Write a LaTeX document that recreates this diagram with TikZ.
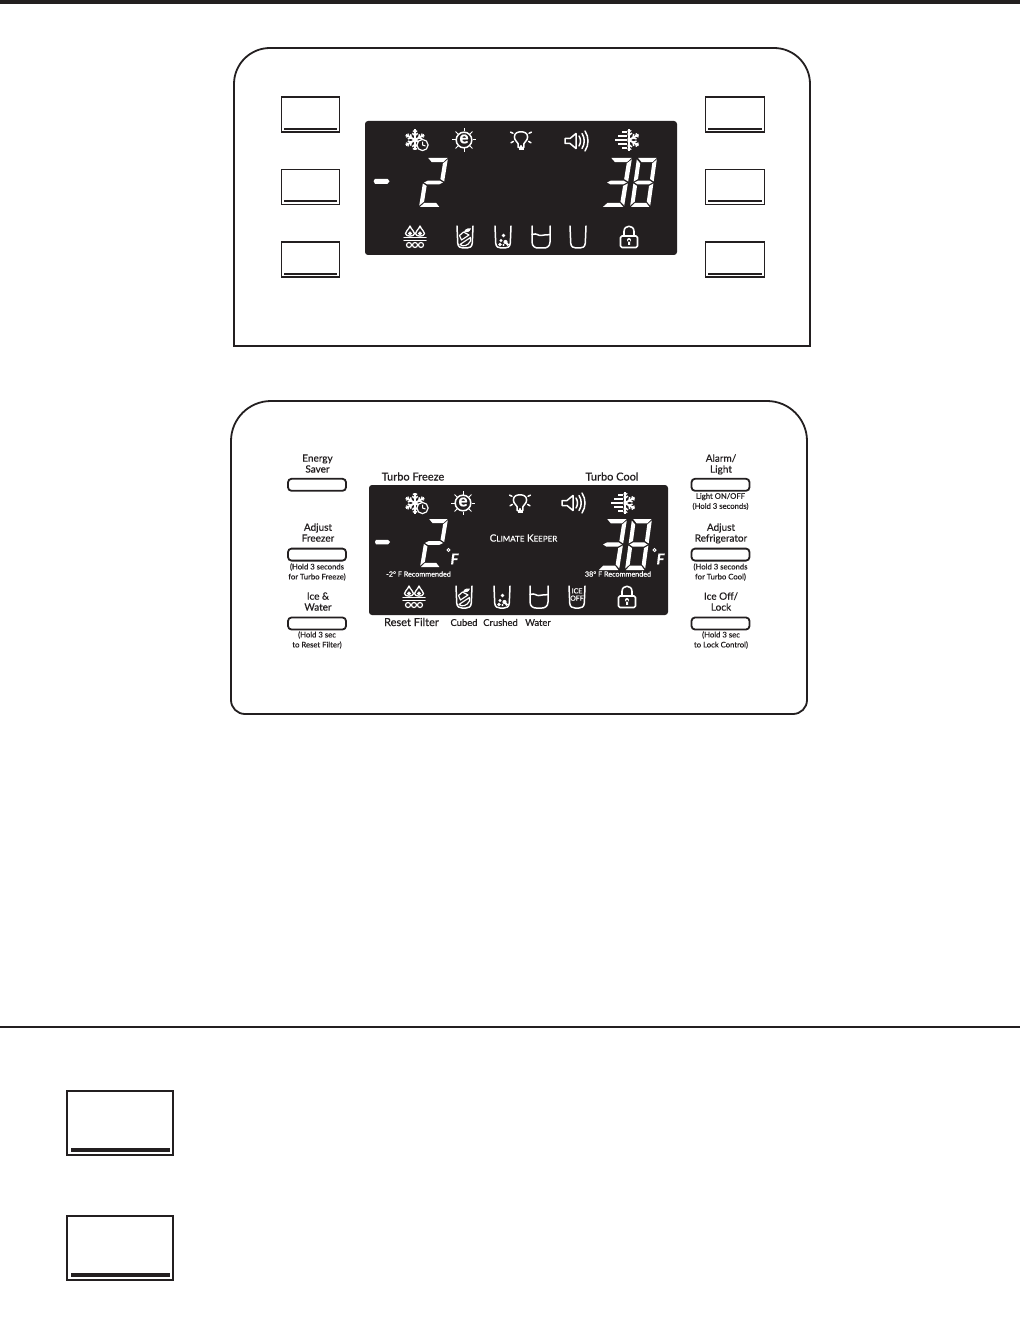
\documentclass[tikz,border=0pt]{standalone}
\usepackage{fontspec}
\setmainfont[FakeBold=0.5]{Lato}
\usetikzlibrary{calc}
\definecolor{ink}{HTML}{231F20}
\newcommand{\fsz}[1]{\fontsize{#1}{#1}\selectfont}
\newcommand{\segA}{\fill[white] (0.06,0)--(0.98,0)--(0.80,0.085)--(0.26,0.085)--cycle;}
\newcommand{\segB}{\fill[white] (1,0.03)--(1,0.48)--(0.80,0.43)--(0.80,0.11)--cycle;}
\newcommand{\segC}{\fill[white] (1,0.52)--(1,0.97)--(0.80,0.89)--(0.80,0.57)--cycle;}
\newcommand{\segD}{\fill[white] (0.04,1)--(0.22,0.915)--(0.78,0.915)--(0.97,1)--cycle;}
\newcommand{\segE}{\fill[white] (0,0.52)--(0.2,0.57)--(0.2,0.89)--(0,0.97)--cycle;}
\newcommand{\segF}{\fill[white] (0,0.03)--(0.2,0.11)--(0.2,0.43)--(0,0.48)--cycle;}
\newcommand{\segG}{\fill[white] (0.05,0.5)--(0.22,0.46)--(0.78,0.46)--(0.95,0.5)--(0.78,0.54)--(0.22,0.54)--cycle;}
% x0,y0,w,slant,h,segments
\newcommand{\sevenseg}[6]{\begin{scope}[shift={(#1+#4,#2)},x={(#3pt,0pt)},y={(-#4pt,-#5pt)}]#6\end{scope}}
\newcommand{\flakeshape}[1]{%
  \foreach \a in {30,90,...,330}{
    \draw[white,line width=2] (0,0)--(\a:#1);
    \draw[white,line width=1.5] (\a:0.42*#1)--++(\a+50:0.34*#1);
    \draw[white,line width=1.5] (\a:0.42*#1)--++(\a-50:0.34*#1);
    \draw[white,line width=1.2] (\a:0.72*#1)--++(\a+50:0.26*#1);
    \draw[white,line width=1.2] (\a:0.72*#1)--++(\a-50:0.26*#1);
  }}
\tikzset{
  x=1pt,y=-1pt,
  icon/.style={white,line width=1.5,line cap=round,line join=round},
  btnsq/.style={draw=ink,line width=1.3,fill=white,inner sep=0,outer sep=0,minimum width=58.5,minimum height=35,
    path picture={\fill[ink] ([xshift=2.5pt,yshift=2pt]path picture bounding box.south west) rectangle ([xshift=-2.5pt,yshift=4.2pt]path picture bounding box.south east);}},
  btnbig/.style={draw=ink,line width=1.8,fill=white,inner sep=0,outer sep=0,minimum width=106,minimum height=64,
    path picture={\fill[ink] ([xshift=3.5pt,yshift=3pt]path picture bounding box.south west) rectangle ([xshift=-3.5pt,yshift=7pt]path picture bounding box.south east);}},
  btnrnd/.style={draw=ink,line width=1.8,fill=white,rounded corners=3.5,inner sep=0,outer sep=0,minimum width=58,minimum height=12},
  panel/.style={draw=ink,line width=1.8},
  lbl/.style={text=ink,font=\fsz{10},align=center,inner sep=0,text depth=0pt},
  tiny/.style={text=ink,font=\fsz{7.7},align=center,inner sep=0},
  wtiny/.style={text=white,font=\fsz{7.2},inner sep=0},
  capbig/.style={text=ink,font=\fsz{11},inner sep=0},
  capsm/.style={text=ink,font=\fsz{9.4},inner sep=0},
  icsnowclock/.pic={
    \begin{scope}[shift={(-1,0)}]\flakeshape{10.5}\end{scope}
    \draw[white,fill=ink,line width=1.2] (6.5,5) circle (5.6);
    \draw[white,line width=1] (6.5,1.6)--(6.5,5)--(9.5,6);
  },
  icesun/.pic={
    \draw[white,line width=1.5] (0,0) circle (7.8);
    \foreach \a in {0,45,...,315}{\draw[white,line width=1] (\a:8.5)--(\a:12);}
    \node[white,inner sep=0,font=\fsz{17}\bfseries] (esym) at (0,-1) {e};
  },
  icbulb/.pic={
    \draw[icon] (-2.8,7.5)--(-2.8,3.8) .. controls (-3.2,1.8) and (-6.6,0.8) .. (-6.6,-3) .. controls (-6.6,-7) and (-3.4,-8.2) .. (0,-8.2) .. controls (3.4,-8.2) and (6.6,-7) .. (6.6,-3) .. controls (6.6,0.8) and (3.2,1.8) .. (2.8,3.8)--(2.8,7.5)--cycle;
    \draw[icon,line width=2.6,line cap=butt] (-2.5,8.8)--(2.5,8.8);
    \foreach \a in {-25,30,90,150,205}{\draw[icon] ($(0,-3)+(\a:8.8)$)--($(0,-3)+(\a:11.5)$);}
  },
  icspeaker/.pic={
    \draw[icon] (-12,-2.5)--(-7,-2.5)--(-1,-7.5)--(-1,7.5)--(-7,2.5)--(-12,2.5)--cycle;
    \draw[icon] (2,-5) .. controls (4,-2) and (4,2) .. (2,5);
    \draw[icon] (5,-7.5) .. controls (8,-3) and (8,3) .. (5,7.5);
    \draw[icon] (8,-10) .. controls (12,-4) and (12,4) .. (8,10);
  },
  iclinesnow/.pic={
    \begin{scope}[shift={(1,0)}]
      \clip (-1.5,-14) rectangle (14,14);
      \flakeshape{11}
    \end{scope}
    \foreach \y/\x in {-8/-6,-4/-10,0/-13,4/-10,8/-6}{\draw[white,line width=1.2] (\x,\y)--(-1.5,\y);}
  },
  icfilter/.pic={
    \foreach \x in {-5,5}{\draw[icon,line width=1.3] (\x,-11) .. controls (\x-1.5,-7) and (\x-4.5,-6) .. (\x-4.5,-3.5) .. controls (\x-4.5,0) and (\x+4.5,0) .. (\x+4.5,-3.5) .. controls (\x+4.5,-6) and (\x+1.5,-7) .. (\x,-11);}
    \draw[white,fill=white] (-5,-3.5) circle (1.8) (5,-3.5) circle (1.8);
    \draw[icon] (-11,0.5)--(11,0.5) (-11,3.4)--(11,3.4);
    \foreach \x in {-6,0,6}{\draw[icon,fill=ink,line width=1.2] (\x,8) circle (2.5);}
  },
  iccup/.pic={
    \draw[icon] (-8,-11)--(-7.3,6) .. controls (-7,10) and (-4.5,11) .. (-2,11)--(2,11) .. controls (4.5,11) and (7,10) .. (7.3,6)--(8,-11);
  },
  iccubed/.pic={
    \pic {iccup};
    \fill[white] (-1,-5.5) .. controls (1,-9) and (4,-9) .. (6,-8.5) .. controls (5,-5) and (2,-4) .. (-1,-5.5)--cycle;
    \draw[icon,line width=1.2] (-5.5,-1.5)--(-1.5,-5)--(4,-2)--(-3.5,3)--cycle;
    \draw[icon,line width=1.2] (-5,7.5)--(5.5,0.5)--(5.5,4) .. controls (3,9) and (-2,10) .. (-5,7.5);
  },
  iccrushed/.pic={
    \pic {iccup};
    \fill[white] (0.5,-1.5) circle (1.9) (-2,3.5) circle (1.7) (2.5,5) circle (2.1) (-3,7.5) circle (1.9) (0.5,8) circle (1.2) (4.5,7.5) circle (1.5);
  },
  icwater/.pic={
    \draw[icon] (-9,-11)--(-9,5) .. controls (-9,10) and (-5,11) .. (-3,11)--(3,11) .. controls (5,11) and (9,10) .. (9,5)--(9,-11);
    \draw[icon] (-9,-2.5) .. controls (-4,-4.5) and (-2,-0.5) .. (0,-1.5) .. controls (2,-2.5) and (4,-1.5) .. (9,-2.5);
  },
  icice/.pic={
    \pic {iccup};
    \node[white,inner sep=0,font=\fsz{7},align=center] (icetxt) at (0,-2.5) {ICE\\[0.3pt]OFF};
  },
  iclock/.pic={
    \draw[icon,line width=1.6] (-5,-1)--(-5,-5.5) .. controls (-5,-12.5) and (5,-12.5) .. (5,-5.5)--(5,-1);
    \draw[icon,line width=1.6,rounded corners=1.5] (-8.5,-1) rectangle (8.5,10.5);
    \fill[white] (0,3) circle (2) (-1,3) rectangle (1,7.8);
  },
}
\begin{document}
\begin{tikzpicture}
\useasboundingbox (0,0) rectangle (1020,1332);
\fill[white] (0,0) rectangle (1020,1332);
% page rules
\fill[ink] (0,0) rectangle (1020,4);
\fill[ink] (0,1026.2) rectangle (1020,1028);
% --- Panel 1
\draw[panel,rounded corners=36] (234,346)--(234,48)--(810,48)[sharp corners]--(810,346)--cycle;
\node[btnsq] (a1) at (310.5,114.5) {};
\node[btnsq] (a2) at (310.5,187) {};
\node[btnsq] (a3) at (310.5,259.5) {};
\node[btnsq] (a4) at (735,114.5) {};
\node[btnsq] (a5) at (735,187) {};
\node[btnsq] (a6) at (735,259.5) {};
\fill[ink,rounded corners=3] (365,121) rectangle (677,255);
\pic at (416,140) {icsnowclock};
\pic at (464,140) {icesun};
\pic at (521,140) {icbulb};
\pic at (577,141) {icspeaker};
\pic at (628,140) {iclinesnow};
\pic at (415,237) {icfilter};
\pic at (465,237) {iccubed};
\pic at (503,237) {iccrushed};
\pic at (541,237) {icwater};
\pic at (578,237) {iccup};
\pic at (629,237) {iclock};
\fill[white] (375,178.8) -- (387.5,178.8) -- (389.5,181.2) -- (387.5,183.8) -- (375,183.8) -- (373.6,181.2) -- cycle;
\sevenseg{419}{158}{21}{8}{49}{\segA\segB\segG\segE\segD}
\sevenseg{602}{158}{22}{8}{49}{\segA\segB\segG\segC\segD}
\sevenseg{630}{158}{20}{7}{49}{\segA\segB\segC\segD\segE\segF\segG}
% --- Panel 2
\draw[panel,rounded corners=40] (231,600)--(231,401)--(807,401)[rounded corners=14]--(807,714)--(231,714)--(231,600);
\node[btnrnd] (b1) at (317,484.8) {};
\node[btnrnd] (b2) at (317,554.6) {};
\node[btnrnd] (b3) at (317,623.5) {};
\node[btnrnd] (b4) at (720.5,484.8) {};
\node[btnrnd] (b5) at (720.5,554.6) {};
\node[btnrnd] (b6) at (720.5,623.5) {};
\fill[ink,rounded corners=3] (369,485) rectangle (668,615);
\pic at (416,503) {icsnowclock};
\pic at (463,503) {icesun};
\pic at (520,503) {icbulb};
\pic at (574,503) {icspeaker};
\pic at (624,503) {iclinesnow};
\pic at (414,597) {icfilter};
\pic at (464,597) {iccubed};
\pic at (502,597) {iccrushed};
\pic at (539,597) {icwater};
\pic at (577,597) {icice};
\pic at (627,597) {iclock};
\fill[white] (376,539.8) -- (388,539.8) -- (390,542) -- (388,544.4) -- (376,544.4) -- (375,542) -- cycle;
\sevenseg{420}{519}{20}{8}{48}{\segA\segB\segG\segE\segD}
\sevenseg{598}{519}{21}{8}{51}{\segA\segB\segG\segC\segD}
\sevenseg{625}{519}{20}{7}{51}{\segA\segB\segC\segD\segE\segF\segG}
\node[draw=white,line width=.9,circle,inner sep=0,minimum size=3.2] (d1) at (448.5,550) {};
\node[text=white,inner sep=0,font=\fsz{15}\bfseries\itshape] (f1) at (454.5,559) {F};
\node[draw=white,line width=.9,circle,inner sep=0,minimum size=3.2] (d2) at (654.5,550) {};
\node[text=white,inner sep=0,font=\fsz{15}\bfseries\itshape] (f2) at (660.5,559) {F};
\node[text=white,inner sep=0] (ck) at (523.5,538) {{\fsz{10}C}{\fsz{8}LIMATE} {\fsz{10}K}{\fsz{8}EEPER}};
\node[wtiny] (r1) at (418.5,574) {-2° F Recommended};
\node[wtiny] (r2) at (618,574) {38° F Recommended};
\node[capbig] (tf) at (413,476.5) {Turbo Freeze};
\node[capbig] (tc) at (612,476.5) {Turbo Cool};
\node[capbig] (rf) at (411.5,622) {Reset Filter};
\node[capsm] (c1) at (464,622.5) {Cubed};
\node[capsm] (c2) at (500.5,622.5) {Crushed};
\node[capsm] (c3) at (538,622.5) {Water};
\node[lbl] (l1) at (317.5,463.5) {Energy\\[0.9pt]Saver};
\node[lbl] (l2) at (318,532.5) {Adjust\\[0.9pt]Freezer};
\node[tiny] (l2s) at (317,572) {(Hold 3 seconds\\[2.3pt]for Turbo Freeze)};
\node[lbl] (l3) at (318,601.5) {Ice \&\\[0.9pt]Water};
\node[tiny] (l3s) at (317,640) {(Hold 3 sec\\[2.3pt]to Reset Filter)};
\node[lbl] (r4) at (721,463.5) {Alarm/\\[0.9pt]Light};
\node[tiny] (r4s) at (720.5,501.5) {Light ON/OFF\\[2.3pt](Hold 3 seconds)};
\node[lbl] (r5) at (721,532.5) {Adjust\\[0.9pt]Refrigerator};
\node[tiny] (r5s) at (720.5,572) {(Hold 3 seconds\\[2.3pt]for Turbo Cool)};
\node[lbl] (r6) at (721,601.5) {Ice Off/\\[0.9pt]Lock};
\node[tiny] (r6s) at (721,640) {(Hold 3 sec\\[2.3pt]to Lock Control)};
% --- Bottom key buttons
\node[btnbig] (k1) at (120,1123) {};
\node[btnbig] (k2) at (120,1248) {};
\end{tikzpicture}
\end{document}
